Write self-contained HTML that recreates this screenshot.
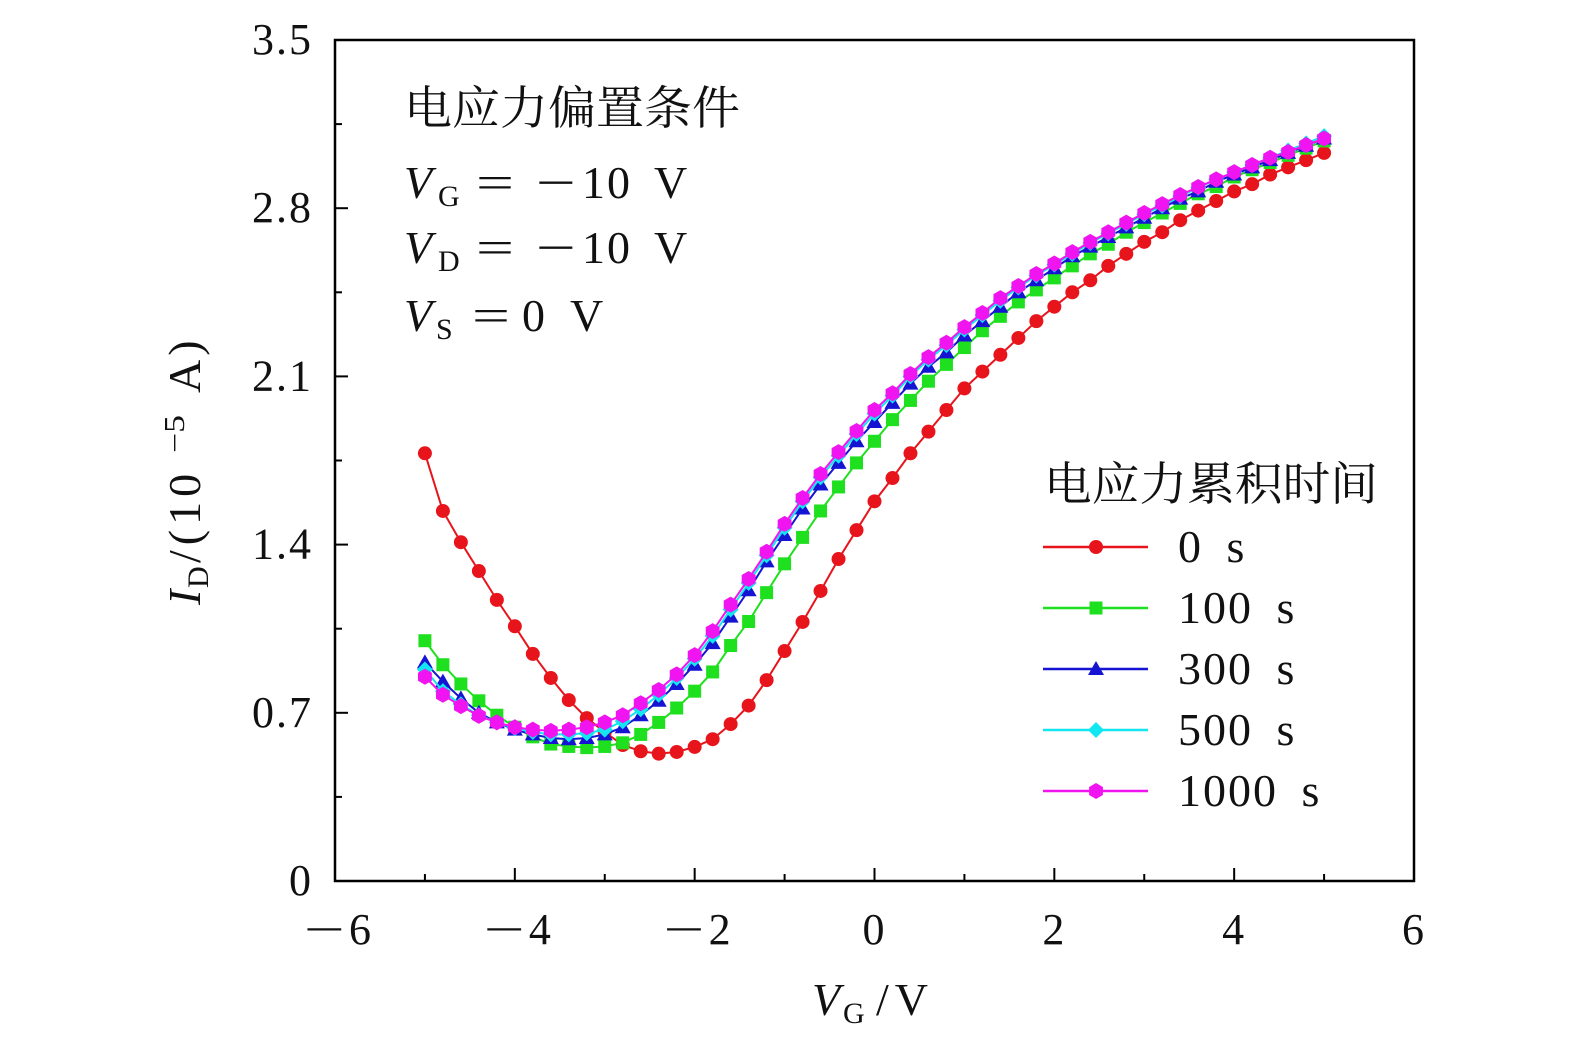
<!DOCTYPE html>
<html><head><meta charset="utf-8"><style>
html,body{margin:0;padding:0;background:#fff;}
svg{display:block;}
text{font-family:"Liberation Serif","Noto Serif CJK SC",serif;fill:#111;}
.cjk{font-family:"Noto Serif CJK SC","Noto Sans CJK SC",serif;}
</style></head><body>
<svg id="chart" width="1575" height="1053" viewBox="0 0 1575 1053" xmlns="http://www.w3.org/2000/svg">
<rect x="335" y="40" width="1079" height="841" fill="none" stroke="#000" stroke-width="2.5"/>
<g id="ticks"></g><g id="series"></g>
<g font-size="46">
<text x="812" y="1015" font-style="italic">V</text>
<text x="843" y="1023" font-size="30">G</text>
<text x="876" y="1015" letter-spacing="6">/V</text>
</g>
<g transform="translate(200,605) rotate(-90)" font-size="46">
<text x="0" y="0" font-style="italic">I</text>
<text x="17" y="8" font-size="30">D</text>
<text x="42" y="0" letter-spacing="5">/(10</text>
<text x="152" y="-16" font-size="28" textLength="38" lengthAdjust="spacingAndGlyphs">−5</text>
<text x="212" y="0" letter-spacing="4">A)</text>
</g>
<g font-size="46">
<text class="cjk" x="404" y="124" font-size="46" textLength="336" lengthAdjust="spacingAndGlyphs">电应力偏置条件</text>
<text x="404" y="198" font-style="italic">V</text><text x="438" y="206" font-size="30">G</text>
<text x="476" y="198" textLength="38" lengthAdjust="spacingAndGlyphs">=</text><text x="536" y="198" textLength="40" lengthAdjust="spacingAndGlyphs">−</text><text x="582" y="198" letter-spacing="2">10</text><text x="654" y="198">V</text>
<text x="404" y="263" font-style="italic">V</text><text x="438" y="271" font-size="30">D</text>
<text x="476" y="263" textLength="38" lengthAdjust="spacingAndGlyphs">=</text><text x="536" y="263" textLength="40" lengthAdjust="spacingAndGlyphs">−</text><text x="582" y="263" letter-spacing="2">10</text><text x="654" y="263">V</text>
<text x="404" y="331" font-style="italic">V</text><text x="436" y="339" font-size="30">S</text>
<text x="472" y="331" textLength="38" lengthAdjust="spacingAndGlyphs">=</text><text x="522" y="331">0</text><text x="570" y="331">V</text>
</g>
<g id="legend">
<text class="cjk" x="1044" y="500" font-size="46" textLength="334" lengthAdjust="spacingAndGlyphs">电应力累积时间</text>
</g>
</svg>
<script>
const xs=[-5,-4.8,-4.6,-4.4,-4.2,-4,-3.8,-3.6,-3.4,-3.2,-3,-2.8,-2.6,-2.4,-2.2,-2,-1.8,-1.6,-1.4,-1.2,-1,-0.8,-0.6,-0.4,-0.2,0,0.2,0.4,0.6,0.8,1,1.2,1.4,1.6,1.8,2,2.2,2.4,2.6,2.8,3,3.2,3.4,3.6,3.8,4,4.2,4.4,4.6,4.8,5];
const s0=[1.78,1.54,1.41,1.29,1.17,1.06,0.945,0.845,0.753,0.678,0.62,0.566,0.54,0.53,0.537,0.558,0.59,0.653,0.73,0.836,0.957,1.078,1.207,1.34,1.46,1.58,1.677,1.78,1.87,1.96,2.05,2.12,2.19,2.26,2.33,2.39,2.45,2.5,2.56,2.61,2.66,2.7,2.75,2.79,2.83,2.87,2.9,2.94,2.97,3.0,3.03];
const s100=[1.0,0.9,0.82,0.75,0.69,0.64,0.6,0.57,0.56,0.555,0.56,0.575,0.61,0.66,0.72,0.79,0.87,0.98,1.08,1.2,1.32,1.43,1.54,1.64,1.74,1.83,1.92,2.0,2.08,2.15,2.22,2.29,2.35,2.41,2.46,2.51,2.56,2.61,2.65,2.7,2.74,2.78,2.82,2.86,2.89,2.93,2.96,2.99,3.02,3.05,3.08];
const s300=[0.91,0.83,0.76,0.7,0.66,0.63,0.61,0.595,0.59,0.595,0.61,0.64,0.69,0.75,0.82,0.9,0.99,1.1,1.21,1.33,1.44,1.55,1.65,1.74,1.83,1.91,1.99,2.07,2.14,2.2,2.27,2.33,2.39,2.45,2.5,2.55,2.6,2.64,2.68,2.72,2.76,2.8,2.84,2.87,2.91,2.94,2.97,3.0,3.03,3.06,3.09];
const s500=[0.88,0.79,0.735,0.69,0.66,0.635,0.62,0.61,0.61,0.615,0.63,0.665,0.715,0.775,0.845,0.925,1.02,1.13,1.24,1.355,1.47,1.58,1.68,1.77,1.86,1.945,2.02,2.1,2.17,2.23,2.295,2.355,2.415,2.47,2.52,2.565,2.61,2.655,2.695,2.735,2.775,2.81,2.85,2.885,2.92,2.95,2.98,3.01,3.04,3.07,3.1];
const s1000=[0.85,0.775,0.728,0.687,0.66,0.64,0.63,0.625,0.63,0.64,0.66,0.69,0.74,0.795,0.86,0.94,1.04,1.15,1.257,1.37,1.486,1.594,1.694,1.785,1.873,1.96,2.03,2.11,2.18,2.24,2.305,2.364,2.426,2.476,2.526,2.57,2.617,2.66,2.7,2.74,2.78,2.817,2.855,2.888,2.92,2.95,2.98,3.01,3.034,3.063,3.09];
const labels=["0 s","100 s","300 s","500 s","1000 s"];
const xTicks=[-6,-4,-2,0,2,4,6];
const xTickLabels=["6","4","2","0","2","4","6"];
const yTicks=[0,0.7,1.4,2.1,2.8,3.5];
const yTickLabels=["0","0.7","1.4","2.1","2.8","3.5"];
const NS="http://www.w3.org/2000/svg";
const X=v=>335+(v+6)*1079/12, Y=v=>881-v*841/3.5;
function mk(tag,attrs,parent){const e=document.createElementNS(NS,tag);for(const k in attrs)e.setAttribute(k,attrs[k]);parent.appendChild(e);return e;}
const tg=document.getElementById('ticks');
for(let v=-5;v<=5;v++){const big=v%2===0;const t=mk('line',{x1:X(v),x2:X(v),y1:881,y2:big?868:874,stroke:'#000','stroke-width':2},tg);

}
for(let i=1;i<10;i++){const v=i*0.35;const big=i%2===0;const t=mk('line',{x1:335,x2:big?348:342,y1:Y(v),y2:Y(v),stroke:'#000','stroke-width':2},tg);

}
xTicks.forEach((v,i)=>{
 const neg=v<0;
 const t=mk('text',{x:X(v)+(neg?14:-12),y:944,'font-size':44},tg);t.textContent=xTickLabels[i];
 
 
 if(neg){const m=mk('text',{x:X(v)-31,y:944,'font-size':44,textLength:41,lengthAdjust:'spacingAndGlyphs'},tg);m.textContent='−';
  
  }
});
yTicks.forEach((v,i)=>{const t=mk('text',{x:313,y:Y(v)+14,'font-size':44,'text-anchor':'end','letter-spacing':2},tg);t.textContent=yTickLabels[i];

});
function marker(type,cx,cy,color,parent){
 let e;
 if(type==='circle')e=mk('circle',{cx,cy,r:7,fill:color},parent);
 else if(type==='square')e=mk('rect',{x:cx-6.5,y:cy-6.5,width:13,height:13,fill:color},parent);
 else if(type==='tri')e=mk('polygon',{points:`${cx},${cy-8} ${cx+8},${cy+6} ${cx-8},${cy+6}`,fill:color},parent);
 else if(type==='diamond')e=mk('polygon',{points:`${cx},${cy-8} ${cx+8},${cy} ${cx},${cy+8} ${cx-8},${cy}`,fill:color},parent);
 else {let p=[];for(let k=0;k<6;k++){const a=Math.PI/6+k*Math.PI/3;p.push((cx+8*Math.cos(a))+','+(cy+8*Math.sin(a)));}e=mk('polygon',{points:p.join(' '),fill:color},parent);}
 return e;
}
const series=[[s0,'#e8141c','circle'],[s100,'#1ee01e','square'],[s300,'#1414d2','tri'],[s500,'#12e6f0','diamond'],[s1000,'#f014f0','hex']];
const sg=document.getElementById('series'), lg=document.getElementById('legend');
series.forEach(([d,c,m],si)=>{
 const g=mk('g',{},sg);
 
 
 const pl=mk('polyline',{points:d.map((v,i)=>X(xs[i])+','+Y(v)).join(' '),fill:'none',stroke:c,'stroke-width':2},g);
 
 
 d.forEach((v,i)=>{const e=marker(m,X(xs[i]),Y(v),c,g);
  
  });
 const ly=547+si*61;
 const le=mk('g',{},lg);
 
 
 mk('line',{x1:1043,x2:1148,y1:ly,y2:ly,stroke:c,'stroke-width':2.5},le);
 marker(m,1096,ly,c,le);
 const t=mk('text',{x:1178,y:ly+15,'font-size':46,'letter-spacing':2,'word-spacing':10},le);t.textContent=labels[si];
});
</script>
</body></html>
